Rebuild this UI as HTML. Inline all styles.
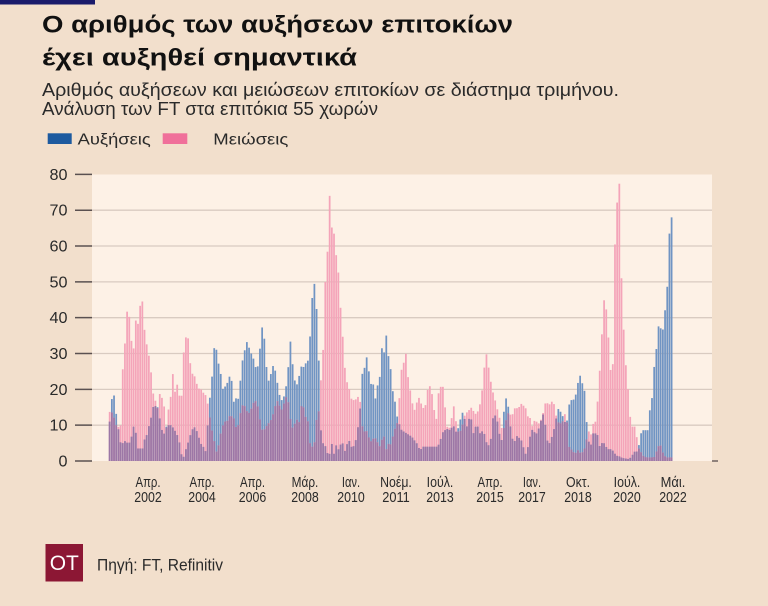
<!DOCTYPE html>
<html>
<head>
<meta charset="utf-8">
<style>
html,body{margin:0;padding:0;background:#f2dfcc;}
svg{display:block;}
text{font-family:"Liberation Sans","DejaVu Sans",sans-serif;}
</style>
</head>
<body>
<svg id="c" xmlns="http://www.w3.org/2000/svg" width="768" height="606" viewBox="0 0 768 606">
<rect x="0" y="0" width="768" height="606" fill="#f2dfcc"/>
<rect x="0" y="0" width="95" height="4.5" fill="#1b1b6b"/>
<text x="42" y="32.5" font-size="24.5" font-weight="bold" fill="#111" textLength="471" lengthAdjust="spacingAndGlyphs">Ο αριθμός των αυξήσεων επιτοκίων</text>
<text x="42" y="65.5" font-size="24.5" font-weight="bold" fill="#111" textLength="315" lengthAdjust="spacingAndGlyphs">έχει αυξηθεί σημαντικά</text>
<text x="42" y="96" font-size="18.5" fill="#2a2a2a" textLength="577" lengthAdjust="spacingAndGlyphs">Αριθμός αυξήσεων και μειώσεων επιτοκίων σε διάστημα τριμήνου.</text>
<text x="42" y="115" font-size="18.5" fill="#2a2a2a" textLength="336" lengthAdjust="spacingAndGlyphs">Ανάλυση των FT στα επιτόκια 55 χωρών</text>
<rect x="47.7" y="133.3" width="24" height="10.7" fill="#1d5a9f"/>
<text x="77.7" y="144.5" font-size="16" fill="#2a2a2a" textLength="73" lengthAdjust="spacingAndGlyphs">Αυξήσεις</text>
<rect x="162.7" y="133.3" width="24.6" height="10.7" fill="#f0709a"/>
<text x="213.3" y="144.5" font-size="16" fill="#2a2a2a" textLength="75" lengthAdjust="spacingAndGlyphs">Μειώσεις</text>

<rect x="92" y="174.5" width="620" height="286.5" fill="#fdf1e6"/>
<g id="grid"></g>
<g id="bars"></g>
<g id="axes"></g>

<rect x="45.5" y="544" width="37.5" height="37.5" fill="#8c1734"/>
<text x="64.3" y="570" font-size="21" fill="#ffffff" text-anchor="middle">OT</text>
<text x="97" y="570.5" font-size="16.5" fill="#2a2a2a" textLength="126" lengthAdjust="spacingAndGlyphs">Πηγή: FT, Refinitiv</text>
</svg>
<script>
(function(){
var NS="http://www.w3.org/2000/svg";
function el(tag,attrs,parent,txt){var e=document.createElementNS(NS,tag);for(var k in attrs)e.setAttribute(k,attrs[k]);if(txt!==undefined)e.textContent=txt;parent.appendChild(e);return e;}
var S=3.583, Y0=461;
function yv(v){return Y0-v*S;}
var grid=document.getElementById('grid'), axes=document.getElementById('axes'), bars=document.getElementById('bars');
for(var v=0;v<=80;v+=10){
  var y=yv(v);
  if(v>0&&v<80) el('line',{x1:92,x2:712,y1:y,y2:y,stroke:'#d9cbc1','stroke-width':1.3},grid);
  el('line',{x1:75,x2:92,y1:y,y2:y,stroke:'#5a5050','stroke-width':1.5},axes);
  el('text',{x:67.5,y:y+5.5,'font-size':16,fill:'#2a2a2a','text-anchor':'end',textLength:(v===0?9:18),lengthAdjust:'spacingAndGlyphs'},axes,String(v));
}
el('line',{x1:712,x2:718,y1:461,y2:461,stroke:'#5a5050','stroke-width':1.3},axes);
var labs=[[148,'Απρ.',25,'2002'],[202,'Απρ.',25,'2004'],[252.5,'Απρ.',25,'2006'],[305,'Μάρ.',26.7,'2008'],[351,'Ιαν.',18.3,'2010'],[396,'Νοέμ.',31.7,'2011'],[440,'Ιούλ.',26.7,'2013'],[490,'Απρ.',25,'2015'],[532,'Ιαν.',18.3,'2017'],[578,'Οκτ.',24,'2018'],[627,'Ιούλ.',26.7,'2020'],[673,'Μάι.',24.7,'2022']];
labs.forEach(function(l){
  el('text',{x:l[0],y:487,'font-size':15,fill:'#2a2a2a','text-anchor':'middle',textLength:l[2],lengthAdjust:'spacingAndGlyphs'},axes,l[1]);
  el('text',{x:l[0],y:502,'font-size':15,fill:'#2a2a2a','text-anchor':'middle',textLength:27.5,lengthAdjust:'spacingAndGlyphs'},axes,l[3]);
});
var B=[110,11,111.7,17,113.3,20,115,16,116.7,12,118.3,9,120.7,5,122.3,5,124,5,125.7,6,127.3,5,129,5,131,6,132.7,9,134.3,10,136,7.6,137.7,3.5,139.3,3.5,141,3.5,142.7,3.5,144.3,6,146,6,147.7,9,149.3,10,151,12,152.7,14.6,154.3,16,156,15,157.7,15,159.3,12.8,161,9.5,162.7,8,164.3,7.6,166,9.5,167.7,10,169.3,10,171,10,172.7,9.5,174.3,8,176,9,177.7,6.5,179.3,5.3,181,2.5,182.7,0.6,184.3,1.5,186,3.4,187.7,4.8,189.3,6.2,191,8,192.7,9,194.3,9.5,196,9,197.7,7.6,199.3,6.2,201,4.8,202.7,4.3,204.3,3.4,206,2.5,207.7,10,209.3,16.5,211,20,212.7,25.8,214.3,31.8,216,31.8,217.7,28.6,219.3,26,221,24,223,20,225.7,21,227.7,22,230,24,232,22,234,16,236.7,18,239,17,241,25,243,29,245.7,32,247.7,34,250,30,252,30,254,28,256.7,25,259,28,261,35,263,39,265.7,29,267.7,22,270,23,272,26,274,27,276.7,23,279,19,281,17,283,17,285.7,20,288,25,290,33.8,291.7,32,293,25,296,20.8,298,22,300,25,302,27,304,26,306.7,28,308.7,28,310.7,38,312.7,47.8,315,50,317.3,39,319.3,24,321,8,323,5,325.7,4,327.7,2,330,2,332,5,334,2,336,4.5,338,3,340,4.5,343.3,5,345.5,2,348.3,6.8,350.5,4,353.3,3.9,356,6,358.3,10,360,14,362.7,26,365,26,367.3,30,369.3,23.6,371.7,20.7,374,21.7,376,15.6,378,22.6,380,23.6,382.3,33,384,30,386,36,387.7,30,390,27.8,392.3,20,394.3,18,396.7,13,398.3,11,401.7,8.6,406.7,7.7,411.7,6.8,416.7,5,420,3,423.3,4,430,4,436.7,4,440,5,441.7,7.7,445,8.6,446.7,9,450,8.6,453.3,10,456.7,7.7,460,11,461.7,14,464,12.5,466.7,9.5,469.3,12,471.7,11.5,473.3,7.7,476.7,10.5,480,7.7,483.3,8.6,486.7,5,490,4,493.3,12.7,496.7,12.7,498.3,8.6,501.7,5.8,503.3,12,505,17,507.3,18,509.3,12,511.7,7,514,5,516.7,7,519,6.5,521,6,523.3,4,525.7,2,528,4,530.7,7.7,532.7,9,535,7.7,537.3,7.7,539.3,9.6,541.7,12,543.7,13.4,546,8.6,548.3,4,550.7,5.8,553,7.7,555.7,11,557.7,14.7,560,14,562.3,12.9,564.3,11,566.7,10.5,569,15.6,571,17,573.3,17,575.3,18,577.3,20.3,579.3,24.9,581.7,21.7,584,21.7,586,12.9,588.3,5.8,590.7,4,592.7,7.7,595,7.7,597.3,7.7,599.3,4,601.7,5,604,5,606,4,608.3,3.3,610.7,3.3,613.3,2.8,615.7,1.7,618,1.3,620,1.3,622.3,0.8,625,0.8,627.3,0.5,630,0.8,632.3,1.7,634.3,2.6,636.7,2.6,639,4.5,641,7.7,643.3,8.6,645.7,8.6,648,8.6,650,14.7,652.3,18,654.3,26.8,656.7,32,659,39,661,36.7,663.3,36.7,665.7,44,667.7,50,670,68,671.5,68];
var P=[110,13.7,111.7,13.7,113.3,11.8,115,12.5,116.7,9,118.3,9.5,120.7,10,122.3,24.4,124,29,125.7,36,127.3,42.5,129.3,40.2,131,35,132.7,29.5,134.3,32.8,136,40,137.7,37.9,139.3,40,141,46.5,142.7,44,144.3,37,146,34,147.7,30.5,149.3,29,151,24.9,152.7,20,154.3,16.5,156,17,157.7,14.6,159.3,18.8,161,18.4,162.7,17,164.3,15,166,9,167.7,11,169.3,17.9,171,17.9,172.7,24.9,174.3,17.4,176,22,177.7,21,179.3,18.4,181,14.6,182.7,25.8,184.3,32.8,186,34.6,187.7,36,189.3,28.6,191,26.3,192.7,24,194.3,24,196,22,197.7,21,199.3,20,201,20,202.7,19.5,204.3,18.4,206,18.4,207.7,16,209.3,13.7,211,9,213,8,215,4,217,2,219,5,221,8,223,10,225,11,227,11,229,12.5,233,12.5,235,11,237,8,240,13,243,16,245.5,15,248,13,250.5,14,253,16,255,17,257,16,259,14,261,9,263,8.5,265,9,267,10,270,11,272,12,274,14,276.7,17,279,16,281,14,283,15,285.7,18,288,17,290,12.5,292,9,294,10,296,11,298,12,300,10,302,18,304,14,306,12,308,11,310,5,312,4,314,4,316,10,318,15,320,12,321.7,31,323.3,31,325.7,53.8,327.7,59,329.5,74,330.5,74,331.7,65,333.3,67,335,58.5,336.7,57,338.3,52.9,340,45,341.7,38,343.3,32.8,345.7,22.6,347.7,21.7,349.3,20,351,17.5,353,17,355.3,17,357.7,18,360,17,362,10,364,8,366,9,368,7,370,6,372,5,374,7,376,6,378,5,380,4,382,6,384,7,386,3,388,5,390,4,392,6,394,8,396,10,398,11,400,20.7,401.7,26,403.3,26,405,32,406.7,28,408.3,22.6,410.7,19,412.7,15.6,415,14,417.3,17,420,18,422.3,14,424.3,15.6,426.7,15.6,428.3,22.6,430,20.7,432.3,18.4,434.3,14,436.7,11.4,439,20.7,441,20.7,443.3,20.7,445.7,13,447.7,8.6,450,9.5,452.3,13,454.3,16,456.7,9,459,7.7,461.5,9,465,13,468.3,14,471.7,15,475,13,478.3,14,481,17,483.3,22.6,485.7,31,487.7,27.8,490,23.6,492,20,494.3,18,496.7,15,499,13,501,9.5,503.3,8.6,506.7,12,509,14,511.7,12,514,14.7,516.7,14.7,519,15,521,16,523.3,15.5,525.7,14.7,528.3,12,530.7,12,532.7,9,535,12,537.3,10.5,539.3,10.5,541.7,12,543.7,14,546,17,548.3,15.6,550.7,16,552.7,17,555,15,557,11,560,10.5,562.3,10.5,564.3,13.4,566.7,12,569,4,572,3,575,2,578,3,581,2,584,3,586,5,588.3,8.6,590.7,7,593.3,10.5,595.5,11,597.7,17,599.3,22.6,601,33,603.3,39,604.5,48,605.5,48,606.7,39,609,33,611,23.6,613.3,28,615,61,617.1,72,619.3,78,620.5,51,621.7,51,623.3,39,625,28.6,627.3,23.6,629.3,14,631.7,9.6,633.3,9.6,635.7,9.6,637.7,4,640,3,643,1.5,646,1,650,1,654,1,658.3,4,660,5,662,3,664,1.5,667,1,671.5,1];
function interp(a,x){
  var n=a.length;
  if(x<a[0]-1.5||x>a[n-2]+1.5) return 0;
  if(x<=a[0]) return a[1];
  if(x>=a[n-2]) return a[n-1];
  for(var i=0;i<n-2;i+=2){
    if(x>=a[i]&&x<=a[i+2]){var t=(x-a[i])/(a[i+2]-a[i]);return a[i+1]+t*(a[i+3]-a[i+1]);}
  }
  return 0;
}
var W=1.75;
for(var m=0;m<=258;m++){
  var x=108.8+m*2.178, c=x+W/2;
  var b=interp(B,c), p=interp(P,c);
  if(b>0) el('rect',{x:x.toFixed(2),y:yv(b).toFixed(2),width:W,height:(b*S).toFixed(2),fill:'#7094c3'},bars);
  if(p>0) el('rect',{x:x.toFixed(2),y:yv(p).toFixed(2),width:W,height:(p*S).toFixed(2),fill:'#f4a4b9'},bars);
  var mn=Math.min(b,p);
  if(mn>0) el('rect',{x:x.toFixed(2),y:yv(mn).toFixed(2),width:W,height:(mn*S).toFixed(2),fill:'#9c77a6'},bars);
}
})();
</script>
</body>
</html>
